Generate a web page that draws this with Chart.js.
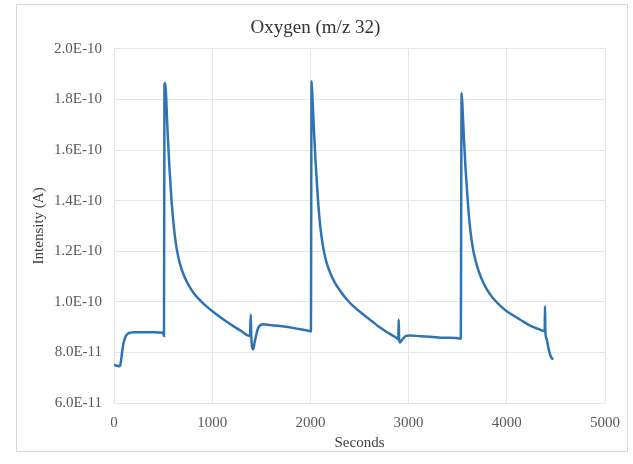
<!DOCTYPE html>
<html>
<head>
<meta charset="utf-8">
<script src="https://cdn.jsdelivr.net/npm/chart.js@4"></script>
<style>
  html, body { margin: 0; padding: 0; background: #fff; }
  #wrap { position: relative; width: 633px; height: 464px; }
  #frame { position: absolute; left: 16px; top: 4px; width: 612px; height: 448px; border: 1px solid #d9d9d9; box-sizing: border-box; }
  canvas { position: absolute; left: 0; top: 0; }
</style>
</head>
<body>
<div id="wrap">
  <div id="frame"></div>
  <canvas id="c" width="633" height="464"></canvas>
</div>
<script>
// Time in seconds
const seconds = [
  0, 59, 69, 84, 99, 119, 138, 168, 208, 306, 405, 499, 509,
  514, 523, 534, 546, 563, 586, 611, 638, 672, 711, 761, 820, 879, 948, 1045, 1126, 1215, 1294, 1385,
  1393, 1398, 1418, 1432, 1470, 1520, 1590, 1690, 1860, 1995, 2005,
  2012, 2023, 2036, 2053, 2076, 2100, 2128, 2161, 2201, 2250, 2310, 2369, 2436, 2539, 2628, 2709, 2796, 2879, 2895,
  2899, 2904, 2912, 2934, 2973, 3014, 3122, 3217, 3369, 3524, 3531,
  3540, 3551, 3564, 3581, 3604, 3628, 3660, 3694, 3739, 3795, 3862, 3932, 3999, 4070, 4134, 4236, 4317, 4386,
  4389, 4393, 4406, 4425, 4440, 4455, 4474
];
// Intensity in amperes
const intensity = [
  7.50e-11, 7.45e-11, 7.60e-11, 8.05e-11, 8.40e-11, 8.63e-11, 8.73e-11, 8.78e-11, 8.80e-11, 8.80e-11, 8.80e-11, 8.78e-11, 8.65e-11,
  1.86e-10, 1.865e-10, 1.78e-10, 1.67e-10, 1.54e-10, 1.40e-10, 1.29e-10, 1.21e-10, 1.15e-10, 1.105e-10, 1.065e-10, 1.03e-10, 1.005e-10, 9.80e-11, 9.50e-11, 9.27e-11, 9.04e-11, 8.85e-11, 8.65e-11,
  9.50e-11, 8.60e-11, 8.12e-11, 8.40e-11, 8.98e-11, 9.11e-11, 9.08e-11, 9.04e-11, 8.94e-11, 8.84e-11, 8.82e-11,
  1.872e-10, 1.79e-10, 1.68e-10, 1.55e-10, 1.41e-10, 1.30e-10, 1.22e-10, 1.16e-10, 1.115e-10, 1.075e-10, 1.04e-10, 1.01e-10, 9.83e-11, 9.50e-11, 9.23e-11, 8.98e-11, 8.76e-11, 8.57e-11, 8.52e-11,
  9.30e-11, 8.50e-11, 8.39e-11, 8.50e-11, 8.65e-11, 8.67e-11, 8.64e-11, 8.62e-11, 8.58e-11, 8.55e-11, 8.54e-11,
  1.824e-10, 1.75e-10, 1.64e-10, 1.52e-10, 1.39e-10, 1.285e-10, 1.20e-10, 1.145e-10, 1.095e-10, 1.05e-10, 1.013e-10, 9.85e-11, 9.63e-11, 9.45e-11, 9.30e-11, 9.06e-11, 8.93e-11, 8.84e-11,
  9.83e-11, 8.80e-11, 8.52e-11, 8.15e-11, 7.93e-11, 7.78e-11, 7.73e-11
];
const xTicks = [0, 1000, 2000, 3000, 4000, 5000];
const yTicks = [6e-11, 8e-11, 1e-10, 1.2e-10, 1.4e-10, 1.6e-10, 1.8e-10, 2e-10];

const points = seconds.map((s, i) => ({ x: s, y: intensity[i] }));
const serif = "'Liberation Serif', 'Times New Roman', serif";

new Chart(document.getElementById('c'), {
  type: 'line',
  data: {
    datasets: [{
      data: points,
      borderColor: '#2E74B5',
      borderWidth: 2.5,
      pointRadius: 0,
      cubicInterpolationMode: 'monotone',
      fill: false
    }]
  },
  options: {
    responsive: false,
    animation: false,
    layout: { padding: { left: 26, right: 28, top: 7, bottom: 8 } },
    plugins: {
      legend: { display: false },
      tooltip: { enabled: false },
      title: {
        display: true,
        text: 'Oxygen (m/z 32)',
        color: '#333333',
        font: { family: serif, size: 19, weight: 'normal' },
        padding: { top: 10, bottom: 9 }
      }
    },
    scales: {
      x: {
        type: 'linear',
        min: 0, max: 5000,
        afterBuildTicks: (s) => { s.ticks = xTicks.map(v => ({ value: v })); },
        afterFit: (s) => { s.height = 53; },
        grid: { color: '#e6e6e6', drawTicks: false },
        border: { display: false },
        ticks: { color: '#595959', font: { family: serif, size: 15 }, padding: 11, maxRotation: 0,
          callback: (v) => String(v) },
        title: { display: true, text: 'Seconds', color: '#404040', font: { family: serif, size: 15 }, padding: { top: 0, bottom: 4 } }
      },
      y: {
        type: 'linear',
        min: 6e-11, max: 2e-10,
        afterBuildTicks: (s) => { s.ticks = yTicks.map(v => ({ value: v })); },
        afterFit: (s) => { s.width = 88; },
        grid: { color: '#e6e6e6', drawTicks: false },
        border: { display: false },
        ticks: {
          color: '#595959', font: { family: serif, size: 15 }, padding: 12,
          callback: (v) => Number(v).toExponential(1).toUpperCase()
        },
        title: { display: true, text: 'Intensity (A)', color: '#404040', font: { family: serif, size: 15 }, padding: { top: 4, bottom: 0 } }
      }
    }
  }
});
</script>
</body>
</html>
